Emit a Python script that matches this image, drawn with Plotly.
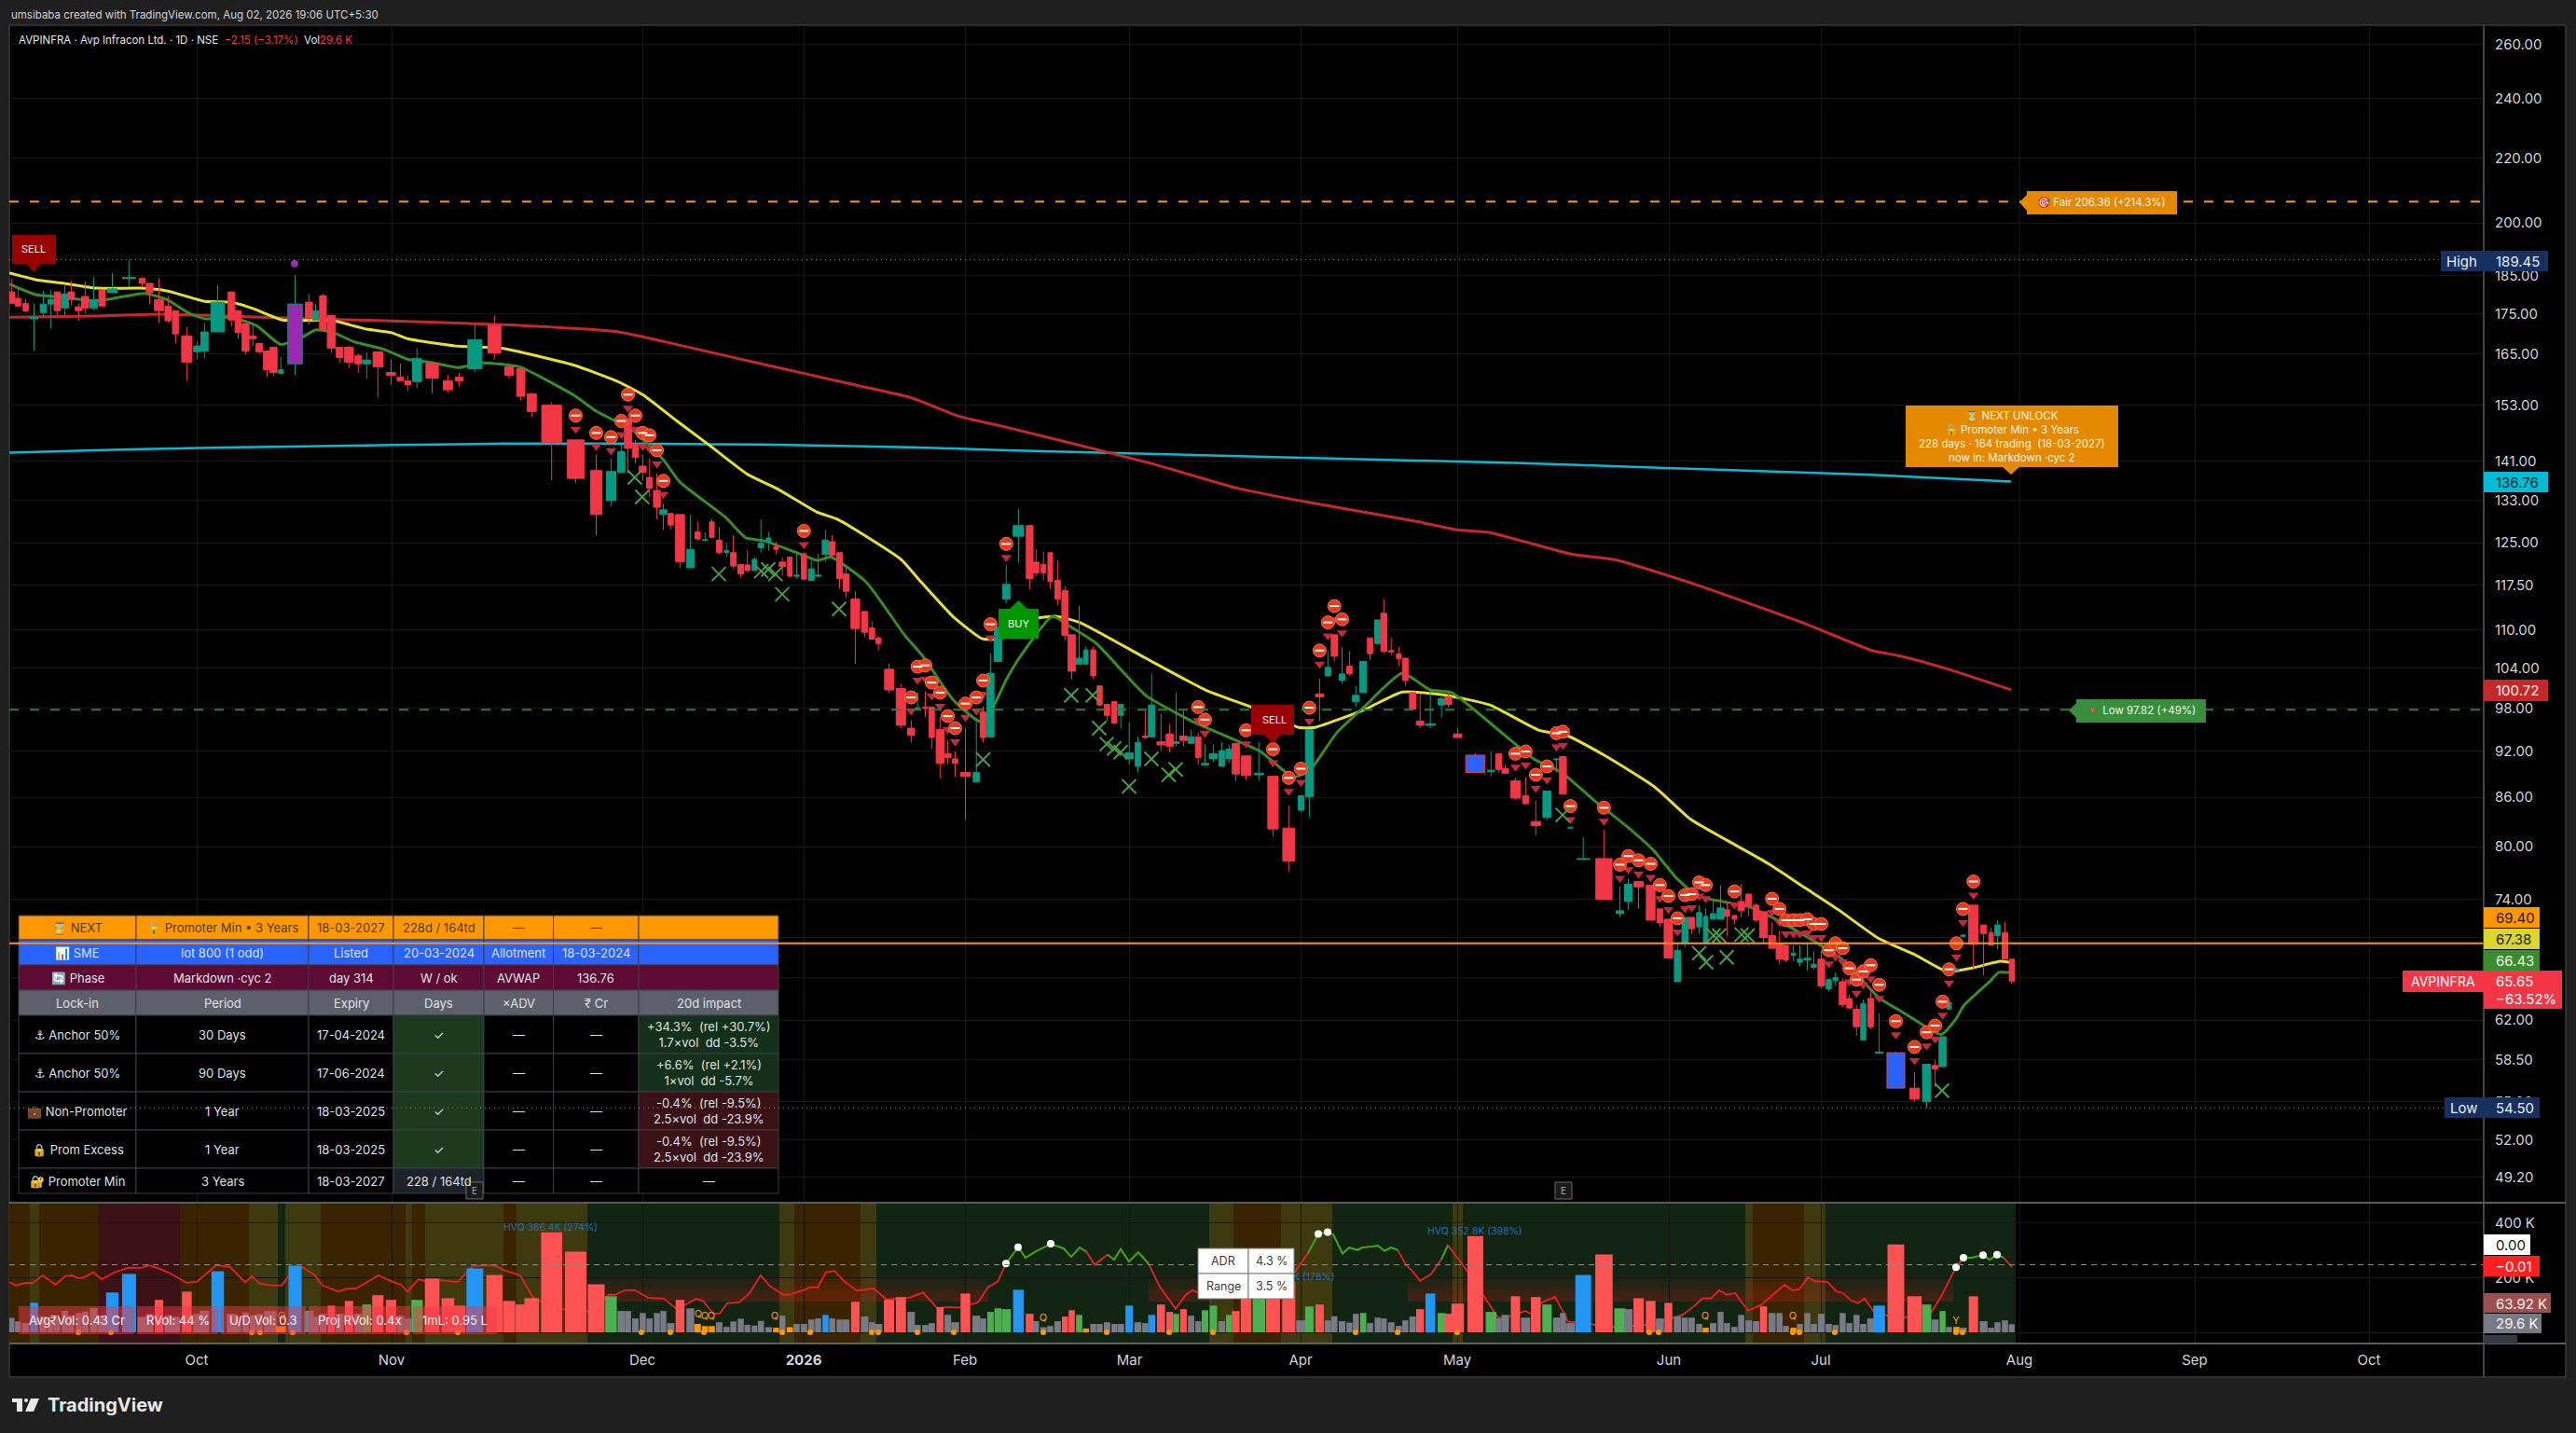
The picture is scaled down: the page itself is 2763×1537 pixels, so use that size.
import numpy as np
import plotly.graph_objects as go

W, H = 2763, 1537
FONT = "Inter, DejaVu Sans, Noto Sans, sans-serif"

# ---- candles, x is the position on the time axis (volume candles are not evenly spaced)
bar_pos = [
    12.7, 19.3, 27.5, 36.5, 46.5, 54.4, 61.3, 69.6, 76.4, 84.4,
    91.3, 100.5, 109.5, 120.5, 138.4, 152.5, 160.5, 170.5, 180.4, 188.4,
    200.4, 211.4, 219.4, 233.5, 248.3, 255.5, 263.4, 271.3, 278.2, 286.5,
    293.4, 301.3, 316.5, 331.3, 338.5, 346.4, 355.4, 364.3, 374.3, 384.3,
    393.3, 405.3, 419.4, 429.4, 437.3, 447.3, 463.5, 480.4, 492.5, 509.3,
    530.3, 546, 558.6, 570.3, 591.7, 617.5, 639.5, 655.4, 666.4, 673.6,
    681.5, 689.4, 696.7, 704.6, 711.5, 719.4, 729.4, 740.4, 748.3, 756.3,
    763.5, 771.4, 779.3, 786.6, 794.5, 801.7, 809.3, 816.2, 824.4, 832.4,
    839.2, 847.2, 854.4, 862.3, 870.2, 877.5, 885.4, 892.6, 900.5, 907.4,
    917.4, 927.4, 935.3, 942.2, 953.6, 966.3, 977.3, 984.2, 992.5, 999.4,
    1008.3, 1016.6, 1024.5, 1035.5, 1047.2, 1054.5, 1062.4, 1070.3, 1079.3, 1092.4,
    1104.4, 1111.3, 1119.2, 1126.5, 1134.4, 1142.3, 1149.5, 1157.5, 1164.7, 1172.6,
    1179.5, 1187.4, 1195.3, 1202.2, 1211.2, 1220.5, 1228.4, 1235.3, 1245.3, 1254.6,
    1261.5, 1269.4, 1277.6, 1285.2, 1292.5, 1301.4, 1310.4, 1318.3, 1325.5, 1336.5,
    1350.3, 1365.4, 1382.3, 1395.4, 1404.4, 1415.4, 1424.3, 1431.2, 1439.5, 1447.4,
    1454.3, 1462.2, 1469.5, 1477.7, 1484.3, 1492.2, 1500.4, 1507.3, 1515.2, 1523.2,
    1534.2, 1546.2, 1553.5, 1563.5, 1582.4, 1599.3, 1607.4, 1614.5, 1625.5, 1636.4,
    1647.3, 1659.3, 1669.5, 1676.4, 1684.4, 1698.2, 1720.4, 1737.5, 1746.5, 1757.5,
    1770.5, 1780.4, 1789.5, 1799.3, 1807.3, 1814.5, 1822.5, 1829.5, 1837.5, 1845.5,
    1852.4, 1860.4, 1867.6, 1875.6, 1883.6, 1891.6, 1900.7, 1908.7, 1915.6, 1923.6,
    1930.5, 1938.5, 1945.5, 1953.5, 1961.5, 1968.7, 1976.4, 1983.6, 1991.3, 1998.5,
    2006.5, 2015.6, 2033.5, 2053.5, 2066.5, 2075.6, 2083.6, 2090.5, 2098.5, 2105.5,
    2116.7, 2127.6, 2135.6, 2142.5, 2150.5, 2157.8,
]
bar_open = [
    180.7, 179, 177.7, 173.7, 175.3, 177.5, 180.7, 176.5, 180.7, 176.8,
    179.5, 176.5, 181.2, 180.5, 184.3, 184.3, 183, 178.7, 177, 175.8,
    169.4, 165.5, 165.7, 170.4, 180.7, 175.8, 172.5, 169.4, 167.5, 165.7,
    166.6, 160.3, 162.6, 178, 173.4, 179.7, 174.6, 166.6, 166.6, 164.6,
    162.6, 165.5, 160.5, 159.4, 158.6, 158.4, 162.8, 158.6, 159.4, 161.4,
    172, 161.9, 161.4, 155.6, 153, 145.4, 139, 133, 138.6, 149.9,
    144.6, 139.9, 137.6, 135, 130.3, 130.5, 130.3, 120.5, 127, 125.4,
    128.9, 125.5, 123.2, 123.2, 121.1, 121, 120, 124.1, 125.2, 124.3,
    121.5, 122.4, 119, 123, 118.3, 119, 122.9, 125.2, 123.2, 119.4,
    115.1, 113, 110.3, 108.7, 103.8, 100.9, 95.2, 97.9, 98.2, 98.2,
    95, 91.7, 91, 89.2, 88, 97.5, 94, 105, 115.1, 126.2,
    128.2, 121.5, 121.1, 123.2, 118.3, 116.5, 109.2, 104.6, 104.6, 106.8,
    101.3, 98.6, 99, 97, 91, 90, 94.1, 94, 93.3, 94.4,
    93.1, 94.1, 93.1, 94, 90.2, 91, 90, 91, 93.1, 91.4,
    88.9, 88.7, 82.2, 84.4, 86.1, 100.1, 102.8, 109.2, 102.1, 104.3,
    99, 100.3, 108.7, 107.8, 112.7, 106.7, 106.2, 105.5, 100.3, 96.2,
    95.6, 98.5, 99.7, 94.4, 91.5, 89.3, 91.7, 89.7, 88.1, 86.2,
    83, 83.5, 90.9, 91.3, 82.2, 78.5, 78.6, 72.5, 73.8, 76,
    75.6, 73, 71.9, 65.6, 69.4, 72.1, 71.1, 69.4, 71.9, 71.9,
    72.9, 72.3, 73.8, 74.6, 73.4, 72.7, 70.2, 69.4, 69.2, 68.2,
    67.5, 67.7, 67, 67.8, 64.9, 65.7, 65.6, 64, 63, 60.2,
    64, 59.05, 59.1, 56.1, 55, 58, 57.9, 63, 66.7, 70.1,
    73.4, 71.3, 70.5, 70.2, 70.5, 67.8,
]
bar_high = [
    184.3, 181.7, 178.9, 177.7, 181, 181.2, 180.7, 182.7, 183.7, 177.7,
    183.5, 184.7, 181.2, 185.8, 189.45, 184.7, 183, 184.3, 179.7, 175.8,
    171.6, 168, 172.7, 182.5, 180.7, 175.8, 172.5, 172.5, 167.8, 165.7,
    166.6, 164.3, 185.2, 180.2, 177.5, 180.2, 174.6, 166.6, 167, 165.1,
    165.5, 165.5, 163.7, 162.6, 159.9, 166.4, 163.2, 160, 160.5, 172.5,
    174.6, 162.6, 161.4, 155.8, 153.7, 145.4, 142.3, 141.5, 144.4, 149.9,
    145.4, 142.3, 141.5, 138.4, 132.4, 130.5, 130.3, 130.3, 129, 126.9,
    129.4, 128, 124.9, 126.4, 121.1, 123.6, 122.4, 129.4, 127, 125.2,
    122.4, 122.4, 123.2, 123.2, 121.8, 123, 127.4, 126.4, 123.2, 120.8,
    116.4, 113, 111.4, 109, 104.7, 101.6, 96.3, 100.4, 100.5, 98.2,
    96.8, 93.5, 92, 95.2, 96.3, 98.3, 106.3, 110.4, 121, 131.4,
    128.2, 123.8, 123.4, 123.2, 121.8, 117.3, 109.2, 114, 107.3, 107.3,
    101.3, 98.6, 99, 98.6, 96, 94, 97.8, 103.1, 97.2, 95.8,
    100.3, 97.8, 95, 94.6, 93, 92.9, 93.3, 92.9, 93.1, 91.4,
    93.3, 88.7, 85, 86.2, 95, 102.4, 106.7, 109.2, 107.3, 106.6,
    101.3, 105, 108.7, 111.6, 115.1, 108.7, 107.3, 105.5, 100.4, 100.1,
    100.7, 99.9, 100.6, 95.2, 91.8, 92, 91.7, 90.2, 88.5, 88.6,
    85.6, 86.8, 91.1, 91.3, 82.4, 81.1, 82, 75.4, 76.3, 76,
    75.6, 73, 71.9, 69.5, 72.1, 72.1, 73.4, 73, 74, 75.6,
    73.8, 72.3, 75.7, 74.7, 73.6, 72.7, 71.6, 70.7, 69.2, 69.2,
    69.2, 69.4, 68.6, 68.6, 65.9, 66.5, 65.9, 64.4, 63.4, 63.9,
    65, 62.6, 59.2, 57.4, 58.1, 58.5, 60.5, 63.6, 66.9, 70.3,
    73.4, 71.3, 71, 71.8, 71.6, 67.8,
]
bar_low = [
    177.7, 177, 175.4, 165.7, 174.3, 171.2, 174.6, 174.6, 177.3, 173.2,
    175.1, 176, 177, 180.5, 182, 182.2, 177.5, 172.7, 172.7, 167.5,
    158.6, 163.7, 163.9, 170.4, 171.8, 168.7, 164.8, 166.9, 165, 159.6,
    159.6, 160.3, 159.9, 172.2, 173.4, 170.4, 165.2, 162.8, 161.6, 160.5,
    159, 154.7, 157.7, 158.6, 156.2, 156.9, 155.6, 155.8, 157.3, 160.5,
    163.7, 159, 154.1, 150.3, 137, 136.5, 126.4, 131.9, 138.6, 138.4,
    140.5, 137, 133.7, 129.4, 127.4, 127.4, 120.5, 120.5, 125.4, 125.4,
    126, 122.9, 122.4, 120.3, 118.8, 119.6, 120, 123.2, 123.6, 122.9,
    119.1, 118.8, 118.6, 118.3, 118.3, 118.8, 121.6, 122.5, 116.9, 115.3,
    104.6, 108.8, 108.5, 106.7, 100.3, 95.2, 93.2, 97.8, 96.8, 92.3,
    88.4, 90.3, 88.6, 83.2, 88, 93.2, 94, 105, 114.3, 121.5,
    116.7, 119, 118.3, 116.9, 114.1, 108.3, 102.3, 104.5, 104.6, 102.3,
    98.3, 96.2, 95.7, 95.2, 90.2, 89.2, 93.7, 94, 92.1, 91.9,
    92.7, 92.7, 93.1, 90.2, 90.1, 90.6, 90, 90.4, 88.1, 88.2,
    88.1, 81.2, 77.1, 84.1, 83.5, 96.2, 102.8, 105, 101.6, 102.8,
    98.2, 100.3, 105.2, 107.8, 106.2, 106, 104.3, 101.3, 97.9, 95.2,
    95.2, 96.7, 98.2, 93.9, 89.2, 88.7, 89.2, 89.1, 85.7, 85.1,
    81.3, 83.2, 89.2, 86.4, 82.1, 78.4, 74, 72.1, 72.9, 73,
    71.8, 71.1, 67.9, 65.6, 69, 70.4, 70.4, 69.4, 71.9, 71.9,
    70.1, 71.4, 72.1, 72.2, 71.6, 69.3, 68.8, 67.3, 67.5, 67.6,
    67.1, 66.7, 66.8, 65, 64.7, 65.2, 63.2, 63.1, 60.6, 60.2,
    61.2, 59, 56.1, 55, 54.5, 56.2, 57.9, 63, 66.7, 70.1,
    66.8, 66.2, 69.2, 68.8, 67.8, 65.4,
]
bar_close = [
    177.7, 177, 175.7, 174, 177.5, 178.7, 175.8, 180.2, 178.7, 175.8,
    176.5, 178.7, 177, 181.5, 184.6, 183, 180.5, 175.8, 173.2, 169.9,
    163, 166.9, 170.4, 178, 173.4, 170.2, 165.7, 168.7, 165.5, 161.2,
    160.5, 161.2, 177.5, 173.9, 175.8, 171, 166.4, 164.1, 163, 162.6,
    163.5, 161.9, 159.9, 158.6, 157.7, 163.9, 159.2, 156.5, 158.6, 168.4,
    165.2, 159.9, 155, 151.6, 144.8, 137.4, 130.3, 138.8, 142.9, 143.6,
    141.7, 138.6, 135.4, 131.7, 131.2, 128.3, 121.6, 123.8, 125.7, 125.6,
    126, 123.2, 123.6, 120.8, 119.4, 120, 122, 124.9, 125.9, 123.8,
    120.7, 119, 119.2, 118.5, 120.3, 119.2, 125.5, 122.7, 118.6, 116.4,
    110.2, 109.6, 108.5, 107.8, 100.7, 95.6, 94.2, 98.1, 98, 93.9,
    90.4, 91.2, 90.4, 88.7, 89.2, 93.9, 103.2, 110.4, 117.6, 128.2,
    118.6, 119.6, 119.6, 118.1, 115.1, 109.1, 103.5, 105.5, 106.8, 102.8,
    98.5, 97, 95.9, 98.6, 91.8, 93.2, 93.9, 98.5, 92.9, 92.7,
    93.3, 93.5, 94, 91.2, 90.4, 91.7, 92.1, 92.3, 89, 88.8,
    89.1, 82.1, 78.3, 86.2, 95, 99.7, 104.1, 105.8, 103.1, 103.1,
    99.9, 105, 106.2, 111.6, 106.6, 106.5, 105.4, 102.1, 97.9, 95.6,
    95.8, 99.4, 98.6, 93.9, 89.2, 89.5, 89.6, 89.1, 85.9, 85.2,
    82.5, 86.8, 91, 86.4, 82.3, 78.6, 74, 72.8, 75.7, 75.4,
    71.8, 71.5, 67.9, 68.7, 72.1, 70.9, 72.6, 72.2, 72.5, 73.1,
    72.2, 71.9, 72.8, 73.3, 71.8, 70, 68.9, 67.8, 67.7, 68.4,
    67.8, 67.9, 67.3, 65.2, 65.8, 66, 63.4, 63.1, 61.4, 63.5,
    61.4, 59.15, 56.1, 55.2, 58.1, 57.7, 60.5, 63.6, 66.85, 70.25,
    69.3, 70.4, 69.2, 71.3, 67.8, 65.65,
]
# volume in thousands, one per candle
volume_k = [
    53, 40, 34, 108, 59, 45, 51, 79, 62, 71,
    76, 90, 62, 146, 214, 57, 68, 119, 62, 57,
    149, 68, 79, 224, 68, 57, 73, 62, 68, 79,
    77, 23, 244, 79, 57, 68, 98, 68, 115, 68,
    102, 136, 119, 62, 51, 119, 197, 125, 98, 234,
    210, 115, 102, 125, 366.4, 295, 176, 132, 78, 78,
    51, 71, 51, 71, 78, 34, 119, 88, 31, 23,
    23, 37, 20, 40, 50, 28, 25, 42, 19, 17,
    61, 19, 31, 31, 47, 51, 64, 51, 47, 47,
    112, 58, 37, 31, 119, 129, 75, 27, 27, 34,
    92, 64, 37, 142, 61, 51, 75, 88, 85, 156,
    68, 41, 19, 23, 41, 58, 81, 64, 14, 31,
    31, 37, 31, 31, 98, 37, 34, 64, 102, 75,
    68, 85, 61, 41, 81, 98, 41, 64, 78, 141,
    130, 152, 186, 44, 95, 102, 44, 59, 41, 36,
    68, 71, 34, 54, 51, 37, 24, 44, 58, 85,
    142, 71, 68, 105, 352.8, 75, 51, 64, 132, 54,
    129, 102, 54, 71, 34, 210, 285, 88, 85, 125,
    115, 51, 108, 58, 54, 54, 31, 17, 34, 75,
    34, 20, 64, 44, 41, 95, 71, 71, 24, 17,
    31, 71, 31, 68, 31, 27, 71, 34, 64, 31,
    51, 98, 322, 132, 102, 47, 78, 20, 20, 17,
    132, 41, 17, 37, 44, 29.6,
]
# g gray, r red, G green, b blue, o orange
volume_kind = (
    "gggbgggggg" "gggbbggrgg" "rggbgggggg" "gobgggrgrg" "GrrggGrrrb"
    "rrrrrrrGgg" "ggggggrgoo" "oggggggggo" "goggggbggg" "rgggrrgggg"
    "rggrggGGGb" "rggggrrGog" "ggggbggbrr" "GrggGGgGrr" "GrrgGrgggg"
    "gGgggggggr" "bGrrrGggrg" "rGgggbrGgr" "rgrggggogg" "gggggrgggo"
    "gggggggggg" "gbrrGgGgog" "rggggg"
)
purple_bars = [32]
blue_bars = [164, 212]

# ---- moving averages
yellow_x = [10, 38, 69, 103, 151, 179, 220, 248, 272, 303, 344, 358, 393, 420, 437, 489, 537, 615, 663, 690,
            726, 760, 802, 833, 876, 898, 927, 967, 988, 1022, 1053, 1067, 1100, 1132, 1158, 1229, 1293, 1346,
            1393, 1410, 1463, 1504, 1551, 1598, 1651, 1680, 1722, 1774, 1813, 1853, 1897, 1936, 1972, 2015,
            2055, 2088, 2114, 2146, 2160]
yellow_ma = [185.8, 184, 183, 181.7, 181.7, 181, 178.2, 178, 176.3, 173.4, 173.4, 173.2, 171.1, 170.2, 168.7,
             166.9, 166.4, 162.3, 158.4, 155.3, 149.5, 144.4, 138.2, 135.4, 130.8, 129.4, 126.4, 121.9, 118,
             112.2, 108.6, 108.5, 111.5, 112.2, 111.2, 105.5, 100.7, 98, 95.3, 95.3, 97.8, 100.4, 99.9, 98.5,
             94.9, 94.2, 91.4, 87.4, 83.3, 80.7, 78, 75.3, 72.9, 69.9, 68.2, 66.6, 66.9, 67.6, 67.38]
green_x = [10, 38, 69, 103, 155, 179, 203, 220, 248, 275, 301, 325, 339, 358, 379, 413, 437, 461, 492, 517, 557,
           616, 640, 678, 712, 729, 778, 800, 819, 853, 877, 891, 929, 970, 991, 1022, 1050, 1060, 1080, 1094,
           1129, 1146, 1176, 1229, 1281, 1317, 1352, 1387, 1405, 1434, 1463, 1504, 1534, 1557, 1604, 1645, 1675,
           1710, 1745, 1774, 1798, 1821, 1877, 1916, 1976, 2015, 2047, 2082, 2098, 2106, 2134, 2144, 2160]
green_ma = [182.8, 180, 179.3, 178.3, 180.3, 178.7, 175.1, 173.7, 174.1, 172, 167.3, 169.2, 170.9, 170.2, 168,
            166, 163.7, 163, 161.7, 162.8, 161.9, 155.2, 151.6, 147.5, 141.1, 136.7, 129.8, 125.9, 125.4, 123.3,
            121.8, 122.4, 118, 109.2, 105.6, 99.3, 96.2, 96.9, 102.4, 105.7, 112.2, 110.7, 107.8, 99.9, 96, 94,
            92, 88.6, 89.5, 94.6, 98.2, 103.2, 100.7, 100.3, 95.3, 91, 89.2, 85.6, 82.4, 79.5, 76.4, 74.4, 73.2,
            71.3, 67.8, 64.1, 62.4, 60.7, 62.1, 63.3, 65.6, 66.5, 66.43]
red_x = [10, 103, 172, 296, 413, 540, 663, 733, 822, 920, 977, 1029, 1080, 1234, 1328, 1405, 1522, 1563, 1598,
         1686, 1733, 1820, 1938, 2008, 2040, 2090, 2157]
red_ma = [174.1, 174.4, 174.9, 174, 173.2, 172.2, 170.4, 166.9, 162.3, 157.5, 154.7, 150.5, 148.1, 140.5, 135.4,
          132.6, 128.9, 127.4, 126.9, 122.9, 121.9, 117.5, 110.9, 106.7, 105.8, 103.8, 100.72]
cyan_x = [10, 138, 310, 540, 675, 815, 988, 1080, 1633, 1820, 2000, 2157]
cyan_ma = [142.7, 143.4, 144, 144.6, 144.6, 144.4, 143.8, 143.2, 140.5, 139.3, 138.2, 136.76]

# ---- markers on the candles
stop_x = [617.5, 639.5, 655.4, 666.4, 673.6, 681.5, 689.4, 696.7, 704.6, 711.5, 862.3, 977.3, 984.2, 992.5, 999.4,
          1008.3, 1016.6, 1024.5, 1035.5, 1047.2, 1054.5, 1062.4, 1079.3, 1285.2, 1292.5, 1336.5, 1350.3, 1365.4,
          1382.3, 1395.4, 1404.4, 1415.4, 1424.3, 1431.2, 1439.5, 1625.5, 1636.4, 1647.3, 1659.3, 1669.5, 1676.4,
          1684.4, 1720.4, 1737.5, 1746.5, 1757.5, 1770.5, 1780.4, 1789.5, 1799.3, 1807.3, 1814.5, 1822.5, 1829.5,
          1860.4, 1900.7, 1908.7, 1915.6, 1923.6, 1930.5, 1938.5, 1945.5, 1953.5, 1961.5, 1968.7, 1976.4, 1983.6,
          1991.3, 1998.5, 2006.5, 2015.6, 2033.5, 2053.5, 2066.5, 2075.6, 2083.6, 2090.5, 2098.5, 2105.5, 2116.7]
stop_price = [150.7, 146.9, 146, 149.5, 155.4, 150.7, 146.9, 146.4, 143.2, 136.9, 127.2, 99.6, 104.2, 104.4, 101.8,
              100.3, 96.9, 95.2, 98.7, 99.6, 102.1, 110.9, 124.8, 98.2, 96.4, 94.9, 96.7, 92.3, 88.5, 89.7, 98.1,
              106.7, 111.2, 113.9, 111.7, 91.7, 92, 88.9, 90, 94.5, 94.7, 84.9, 84.7, 77.9, 78.9, 78.4, 78, 75.6,
              74.4, 72, 74.5, 74.6, 75.9, 75.6, 74.9, 74.1, 73, 71.8, 71.8, 71.8, 71.9, 71.4, 71.4, 68.7, 69.4,
              68.9, 66.9, 65.8, 66.6, 67.2, 65.3, 61.9, 59.6, 60.9, 61.5, 63.7, 66.8, 69.4, 73, 76]
cross_x = [680.8, 688.8, 771, 816.5, 824, 831.7, 839, 900, 1054.5, 1149, 1172, 1179, 1187, 1195, 1202, 1211, 1235,
           1253.5, 1261, 1676, 1822.5, 1830, 1838, 1844, 1852, 1868, 1874.5, 2083]
cross_price = [137.6, 133.7, 119.4, 119.9, 120.2, 119.4, 115.9, 113.4, 90.9, 99.9, 99.9, 95.2, 93, 92.4, 91.9, 87.4,
               91, 88.9, 89.6, 83.8, 68.4, 67.5, 70.2, 70.2, 68, 70.3, 70.2, 55.9]
purple_dot_x = [316]
purple_dot_price = [188.4]

# ---- indicator line in the lower pane
rs_x = [10.5, 17.5, 26.7, 35, 45.6, 59.6, 70, 77, 84, 91, 100, 109, 123, 137, 151, 160, 172, 184, 200, 211, 232, 247,
        263, 270, 279, 288, 302, 312, 324, 337, 346, 363, 372, 382, 406, 421, 430, 437, 449, 456, 472, 491, 507, 530,
        540, 558, 572, 597, 632, 653, 660, 670, 681, 695, 712, 726, 747, 754, 765, 772, 780, 793, 804, 816, 825, 840,
        846, 860, 870, 877, 886, 895, 905, 919, 937, 951, 961, 975, 990, 1005, 1018, 1028, 1049, 1060, 1070, 1079,
        1092, 1100, 1111, 1127, 1141, 1149, 1158, 1165, 1174, 1188, 1195, 1202, 1211, 1221, 1232, 1244, 1261, 1272,
        1279, 1293, 1311, 1339, 1374, 1388, 1403, 1414, 1424, 1430, 1440, 1447, 1456, 1461, 1478, 1485, 1492, 1499,
        1508, 1514, 1523, 1535, 1546, 1553, 1569, 1591, 1607, 1619, 1636, 1644, 1654, 1668, 1682, 1693, 1732, 1774,
        1805, 1816, 1826, 1835, 1844, 1852, 1861, 1875, 1889, 1914, 1922, 1930, 1939, 1947, 1960, 1970, 1977, 1986,
        1993, 2000, 2011, 2040, 2072, 2083, 2098, 2106, 2114, 2127, 2134, 2142, 2149, 2158]
rs_val = [-0.095, -0.112, -0.098, -0.1, -0.058, -0.107, -0.062, -0.057, -0.073, -0.067, -0.04, -0.078, -0.04, -0.017,
          -0.017, -0.003, -0.023, -0.05, -0.097, -0.092, -0.002, -0.013, -0.095, -0.062, -0.102, -0.11, -0.112, -0.045,
          -0.012, -0.053, -0.112, -0.145, -0.13, -0.128, -0.057, -0.092, -0.107, -0.145, -0.078, -0.09, -0.083, -0.093,
          -0.007, -0.003, -0.028, -0.057, -0.178, -0.237, -0.253, -0.162, -0.162, -0.137, -0.137, -0.178, -0.183, -0.24,
          -0.183, -0.195, -0.263, -0.263, -0.208, -0.203, -0.153, -0.057, -0.112, -0.162, -0.162, -0.14, -0.12, -0.123,
          -0.04, -0.033, -0.087, -0.14, -0.128, -0.187, -0.183, -0.178, -0.15, -0.233, -0.228, -0.232, -0.203, -0.12,
          -0.092, 0.007, 0.095, 0.038, 0.072, 0.113, 0.088, 0.043, 0.093, 0.072, 0.0, 0.055, 0.027, 0.085, 0.017, 0.068,
          0.005, -0.12, -0.237, -0.162, -0.137, -0.17, -0.162, -0.12, -0.095, -0.045, 0.063, 0.167, 0.177, 0.163, 0.06,
          0.093, 0.08, 0.093, 0.103, 0.075, 0.093, 0.08, 0.0, -0.028, -0.087, -0.05, 0.03, 0.105, 0.0, -0.17, -0.287,
          -0.278, -0.25, -0.27, -0.203, -0.173, -0.307, -0.312, -0.337, -0.32, -0.27, -0.228, -0.182, -0.182, -0.137,
          -0.162, -0.153, -0.248, -0.217, -0.108, -0.137, -0.133, -0.067, -0.09, -0.092, -0.145, -0.153, -0.195, -0.207,
          -0.182, -0.262, -0.287, -0.253, -0.162, -0.013, 0.038, 0.038, 0.052, 0.027, 0.055, 0.038, -0.012]
rs_dot_x = [1079, 1092, 1127, 1414, 1424, 2098, 2106, 2127, 2142]
rs_dot_val = [0.007, 0.095, 0.113, 0.167, 0.177, -0.013, 0.038, 0.052, 0.055]
pivot_x = [84, 119, 270, 279, 314, 436, 491, 688, 719, 755, 839, 869, 935, 942, 984, 1023, 1119, 1187, 1254, 1301, 1454,
           1499, 1563, 1769, 1779, 1923, 1930, 1968, 2098, 2105]
q_x = [302, 749, 756, 763, 831, 1119, 1829, 1923]
q_label = ["Q", "Q", "Q", "Q", "Q", "Q", "Q", "Q"]
q_k = [40, 45, 38, 38, 40, 33, 40, 40]
y_x = [2098]

# regime colours behind the lower pane
regime_edges = [10, 32, 42, 105, 193, 212, 267, 298, 306, 344, 435, 442, 456, 540, 554, 630, 836, 852, 923, 940,
                1297, 1323, 1374, 1429, 1558, 1569, 1872, 1880, 1935, 1958, 2162]
regime_kind = ["b", "o", "b", "m", "b", "b", "o", "G", "o", "b", "o", "b", "o", "b", "o", "G", "o", "b", "o", "G",
               "o", "b", "o", "G", "o", "G", "o", "b", "o", "G"]
glow_spans = [(630, 1060), (1232, 1300), (1510, 2095)]

# ---- axes
price_ticks = [260, 240, 220, 200, 185, 175, 165, 153, 141, 133, 125, 117.5, 110, 104, 98, 92, 86, 80, 74, 70, 66, 62,
               58.5, 55, 52, 49.2]
month_pos = [211, 420, 689, 862, 1035, 1211.6, 1395, 1563, 1790, 1953, 2166, 2354, 2541]
month_text = ["Oct", "Nov", "Dec", "<b>2026</b>", "Feb", "Mar", "Apr", "May", "Jun", "Jul", "Aug", "Sep", "Oct"]
vol_ticks = [0, 200, 400]
vol_text = ["", "200 K", "400 K"]

fair_price = 206.36
next_low_price = 97.82
last_ref_price = 69.40
high_price = 189.45
low_price = 54.50

# ---- table
col_edges = [20, 146, 331, 422, 519, 593.5, 685, 835]
row_edges = [982, 1008, 1035, 1062, 1089, 1130, 1171, 1212, 1253, 1280]
table_rows = [
    ["⌛ NEXT", "🔓 Promoter Min • 3 Years", "18-03-2027", "228d / 164td", "—", "—", ""],
    ["📊 SME", "lot 800 (1 odd)", "Listed", "20-03-2024", "Allotment", "18-03-2024", ""],
    ["🔄 Phase", "Markdown ·cyc 2", "day 314", "W / ok", "AVWAP", "136.76", ""],
    ["Lock-in", "Period", "Expiry", "Days", "×ADV", "₹ Cr", "20d impact"],
    ["⚓ Anchor 50%", "30 Days", "17-04-2024", "✓", "—", "—", "+34.3%  (rel +30.7%)<br>1.7×vol  dd -3.5%"],
    ["⚓ Anchor 50%", "90 Days", "17-06-2024", "✓", "—", "—", "+6.6%  (rel +2.1%)<br>1×vol  dd -5.7%"],
    ["💼 Non-Promoter", "1 Year", "18-03-2025", "✓", "—", "—", "-0.4%  (rel -9.5%)<br>2.5×vol  dd -23.9%"],
    ["🔒 Prom Excess", "1 Year", "18-03-2025", "✓", "—", "—", "-0.4%  (rel -9.5%)<br>2.5×vol  dd -23.9%"],
    ["🔐 Promoter Min", "3 Years", "18-03-2027", "228 / 164td", "—", "—", "—"],
]
row_fill = ["#ff9800", "#2962ff", "#5e0b33", "#5d606b", "#000000", "#000000", "#000000", "#000000", "#000000"]
days_fill = [None, None, None, None, "#1b3a1e", "#1b3a1e", "#1b3a1e", "#1b3a1e", "#1e222a"]
impact_fill = [None, None, None, None, "#12301a", "#12301a", "#3a1216", "#3a1216", None]

# ---- stat boxes in the lower pane
stat_text = ["Avg₹Vol: 0.43 Cr", "RVol: 44 %", "U/D Vol: 0.3", "Proj RVol: 0.4x", "1mL: 0.95 L"]
stat_edges = [(20, 144), (147, 234), (237, 328), (331, 440), (443, 533)]


def fx(x):
    return x / W


def fy(y):
    return 1 - y / H


shapes = []
annotations = []


def box(x0, y0, x1, y1, fill, line=None, width=0):
    shapes.append(dict(type="rect", xref="paper", yref="paper", x0=fx(x0), x1=fx(x1), y0=fy(y0), y1=fy(y1),
                       fillcolor=fill, line=dict(color=line or fill, width=width), layer="above"))


def poly(points, fill):
    path = "M " + " L ".join(f"{fx(a):.5f},{fy(b):.5f}" for a, b in points) + " Z"
    shapes.append(dict(type="path", xref="paper", yref="paper", path=path, fillcolor=fill, line=dict(width=0),
                       layer="above"))


def label(x, y, text, color="#d1d4dc", size=13, anchor="center", **kw):
    annotations.append(dict(xref="paper", yref="paper", x=fx(x), y=fy(y), text=text, showarrow=False, xanchor=anchor,
                            yanchor="middle", font=dict(family=FONT, size=size, color=color), **kw))


def main_y(p):
    return float(np.log10(p))


# ---- candle geometry from the values above
vol = np.array(volume_k, dtype=float)
pos = np.array(bar_pos, dtype=float)
body_lo = np.log10(np.minimum(bar_open, bar_close))
body_hi = np.log10(np.maximum(bar_open, bar_close))
is_up = np.array(bar_close) >= np.array(bar_open)
body_color = ["#089981" if u else "#f23645" for u in is_up]
edge_color = list(body_color)
for i in purple_bars:
    body_color[i] = "#9c27b0"
    edge_color[i] = "#089981"
for i in blue_bars:
    body_color[i] = "#2962ff"
    edge_color[i] = "#f23645"
body_width = 4 + vol * 0.047

wick_x = {True: [], False: []}
wick_y = {True: [], False: []}
for i in range(len(pos)):
    u = bool(is_up[i])
    wick_x[u] += [pos[i], pos[i], None, pos[i], pos[i], None]
    wick_y[u] += [main_y(bar_high[i]), body_hi[i], None, body_lo[i], main_y(bar_low[i]), None]

kind_color = {"g": "#787b86", "r": "#ff5252", "G": "#4caf50", "b": "#2196f3", "o": "#ff9800"}
vol_color = [kind_color[k] for k in volume_kind]
gaps = np.diff(pos)
left = np.r_[gaps[0], gaps]
right = np.r_[gaps, gaps[-1]]
vol_width = (left + right) / 2 - 1

fig = go.Figure()


def add_ma(x, v, color, width):
    fig.add_trace(go.Scatter(x=x, y=np.log10(v), mode="lines", line=dict(color=color, width=width, shape="spline",
                                                                         smoothing=0.5),
                             xaxis="x", yaxis="y", hoverinfo="skip", showlegend=False))


add_ma(cyan_x, cyan_ma, "#00bcd4", 2.5)
add_ma(red_x, red_ma, "#c62828", 3)
add_ma(yellow_x, yellow_ma, "#e6e02e", 3)
add_ma(green_x, green_ma, "#388e1f", 3)

# candles on an overlay axis so they paint over the averages
fig.add_trace(go.Bar(x=pos, y=body_hi - body_lo, base=body_lo, width=body_width,
                     marker=dict(color=body_color, line=dict(color=edge_color, width=1)),
                     xaxis="x", yaxis="y4", hoverinfo="skip", showlegend=False))
for up, col in [(True, "#089981"), (False, "#f23645")]:
    fig.add_trace(go.Scatter(x=wick_x[up], y=wick_y[up], mode="lines", line=dict(color=col, width=1),
                             xaxis="x", yaxis="y4", hoverinfo="skip", showlegend=False, connectgaps=False))

stop_y = np.log10(stop_price)
fig.add_trace(go.Scatter(x=stop_x, y=stop_y - 14.5 / 730 / np.log(10), mode="markers",
                         marker=dict(symbol="triangle-down", size=10, color="#c4283c"),
                         xaxis="x", yaxis="y4", hoverinfo="skip", showlegend=False))
fig.add_trace(go.Scatter(x=stop_x, y=stop_y, mode="markers",
                         marker=dict(symbol="circle", size=14, color="#e8381e", line=dict(color="#ff7043", width=1)),
                         xaxis="x", yaxis="y4", hoverinfo="skip", showlegend=False))
fig.add_trace(go.Scatter(x=stop_x, y=stop_y, mode="markers",
                         marker=dict(symbol="line-ew", size=7, line=dict(color="#ffffff", width=2)),
                         xaxis="x", yaxis="y4", hoverinfo="skip", showlegend=False))
fig.add_trace(go.Scatter(x=cross_x, y=np.log10(cross_price), mode="markers",
                         marker=dict(symbol="x-thin", size=15, line=dict(color="#43a047", width=2)),
                         xaxis="x", yaxis="y4", hoverinfo="skip", showlegend=False))
fig.add_trace(go.Scatter(x=purple_dot_x, y=np.log10(purple_dot_price), mode="markers",
                         marker=dict(symbol="circle", size=8, color="#9c27b0"),
                         xaxis="x", yaxis="y4", hoverinfo="skip", showlegend=False))

# ---- lower pane: indicator below, volume on top
rs = np.array(rs_val)
fig.add_trace(go.Scatter(x=rs_x, y=rs, mode="lines", line=dict(color="#f01e1e", width=1.8),
                         xaxis="x2", yaxis="y2", hoverinfo="skip", showlegend=False))
fig.add_trace(go.Scatter(x=rs_x, y=[v if v > 0 else None for v in rs], mode="lines",
                         line=dict(color="#22b80c", width=1.8),
                         xaxis="x2", yaxis="y2", hoverinfo="skip", showlegend=False))
fig.add_trace(go.Scatter(x=rs_dot_x, y=rs_dot_val, mode="markers",
                         marker=dict(symbol="circle", size=8, color="#ffffff"),
                         xaxis="x2", yaxis="y2", hoverinfo="skip", showlegend=False))
fig.add_trace(go.Bar(x=pos, y=vol, width=vol_width, marker=dict(color=vol_color, line=dict(width=0)),
                     xaxis="x2", yaxis="y3", hoverinfo="skip", showlegend=False))
fig.add_trace(go.Scatter(x=pivot_x, y=[0] * len(pivot_x), mode="markers",
                         marker=dict(symbol="circle", size=6, color="#ff9800"),
                         xaxis="x2", yaxis="y3", hoverinfo="skip", showlegend=False))
fig.add_trace(go.Scatter(x=q_x, y=q_k, mode="text", text=q_label,
                         textfont=dict(family=FONT, size=11, color="#ff9800"), textposition="top center",
                         xaxis="x2", yaxis="y3", hoverinfo="skip", showlegend=False))
fig.add_trace(go.Scatter(x=y_x, y=[20], mode="text", text=["Y"],
                         textfont=dict(family=FONT, size=11, color="#ff9800"), textposition="top center",
                         xaxis="x2", yaxis="y3", hoverinfo="skip", showlegend=False))

# ---- frame and panes (below the traces)
shapes.append(dict(type="rect", xref="paper", yref="paper", x0=fx(10), x1=fx(2752), y0=fy(27), y1=fy(1477),
                   fillcolor="#000000", line=dict(color="#2e2e2e", width=2), layer="below"))
regime_color = {"b": "#3a2400", "o": "#3d3a10", "m": "#3b1116", "G": "#122412"}
for i, k in enumerate(regime_kind):
    shapes.append(dict(type="rect", xref="x2", yref="paper", x0=regime_edges[i], x1=regime_edges[i + 1],
                       y0=fy(1441), y1=fy(1291), fillcolor=regime_color[k], line=dict(width=0), layer="below"))
for a, b in glow_spans:
    for j in range(7):
        shapes.append(dict(type="rect", xref="x2", yref="paper", x0=a, x1=b, y0=fy(1368 + 4 * j + 4),
                           y1=fy(1368 + 4 * j), fillcolor=f"rgba(230,30,30,{0.02 + 0.036 * j:.3f})",
                           line=dict(width=0), layer="below"))

# ---- table (shapes), the price lines pass over it
for r, row in enumerate(table_rows):
    y0, y1 = row_edges[r], row_edges[r + 1]
    for c, txt in enumerate(row):
        x0, x1 = col_edges[c], col_edges[c + 1]
        fill = row_fill[r]
        if c == 3 and days_fill[r]:
            fill = days_fill[r]
        if c == 6 and impact_fill[r]:
            fill = impact_fill[r]
        box(x0, y0, x1, y1, fill, "#3c3f47", 1)
        col = "#4a3d14" if r == 0 else "#dfe1e6"
        label((x0 + x1) / 2, (y0 + y1) / 2, txt, col, 13)


# ---- horizontal price lines
def hline(price, color, dash, width, x1=2664):
    shapes.append(dict(type="line", xref="x", yref="y", x0=10, x1=x1, y0=main_y(price), y1=main_y(price),
                       line=dict(color=color, dash=dash, width=width), layer="above"))


hline(fair_price, "#ff9800", "10px,12px", 2)
hline(next_low_price, "#2e7d32", "10px,12px", 2)
hline(last_ref_price, "#ff9800", "solid", 2)
hline(high_price, "#8a8a8a", "1px,4px", 1, 2618)
hline(low_price, "#8a8a8a", "1px,4px", 1, 2622)
shapes.append(dict(type="line", xref="x2", yref="y2", x0=10, x1=2664, y0=0, y1=0,
                   line=dict(color="#8a8a8a", dash="6px,5px", width=1), layer="above"))

# pane separators
for y in (1290, 1441):
    shapes.append(dict(type="line", xref="paper", yref="paper", x0=fx(10), x1=fx(2752), y0=fy(y), y1=fy(y),
                       line=dict(color="#7a7a7a", width=1.5), layer="above"))
shapes.append(dict(type="line", xref="paper", yref="paper", x0=fx(2664), x1=fx(2664), y0=fy(27), y1=fy(1477),
                   line=dict(color="#5a5a5a", width=1.5), layer="above"))

# ---- header and footer
label(10, 16, "umsibaba created with TradingView.com, Aug 02, 2026 19:06 UTC+5:30", "#d1d4dc", 11.5, "left")
label(18, 43, 'AVPINFRA · Avp Infracon Ltd. · 1D · NSE  <span style="color:#f23645">−2.15 (−3.17%)</span>  '
              'Vol<span style="color:#f23645">29.6 K</span>', "#e6e6e6", 11.5, "left")
label(49, 1507, "<b>TradingView</b>", "#e8e8e8", 20, "left")
box(13, 1500, 24, 1504, "#e8e8e8")
box(18, 1500, 24, 1514, "#e8e8e8")
shapes.append(dict(type="circle", xref="paper", yref="paper", x0=fx(26), x1=fx(30), y0=fy(1500), y1=fy(1504),
                   fillcolor="#e8e8e8", line=dict(width=0), layer="above"))
poly([(33, 1500), (42, 1500), (36, 1514), (27, 1514)], "#e8e8e8")

# ---- buy / sell flags
box(13, 252, 60, 283, "#9a0000")
poly([(29, 283), (44, 283), (36, 292)], "#9a0000")
label(36, 267, "SELL", "#f5f5f5", 11)
box(1071, 653, 1114, 685, "#009600")
poly([(1083, 653), (1102, 653), (1092.4, 644)], "#009600")
label(1092, 669, "BUY", "#f5f5f5", 11)
box(1342, 756, 1388, 788, "#9a0000")
poly([(1356, 788), (1374, 788), (1365, 797)], "#9a0000")
label(1367, 772, "SELL", "#f5f5f5", 11)

# ---- callouts
box(2174, 205, 2335, 230, "#e58a00")
poly([(2174, 209), (2174, 226), (2166, 217)], "#e58a00")
label(2254, 217, "🎯 Fair 206.36 (+214.3%)", "#f5f0e0", 11.5)
box(2227, 750, 2366, 775, "#388e3c")
poly([(2227, 754), (2227, 770), (2219, 762)], "#388e3c")
label(2296, 762, "🔻 Low 97.82 (+49%)", "#f0f5f0", 11.5)
box(2044, 435, 2272, 501, "#e58a00")
poly([(2148, 501), (2166, 501), (2157, 509)], "#e58a00")
label(2158, 468, "⏳ NEXT UNLOCK<br>🔓 Promoter Min • 3 Years<br>228 days · 164 trading  (18-03-2027)<br>"
                 "now in: Markdown ·cyc 2", "#f7f2e6", 11.5)

# ---- E flags
for ex in (509, 1677):
    box(ex - 9, 1268, ex + 9, 1286, "#1a1a1a", "#6a6a6a", 1)
    label(ex, 1277, "E", "#b0b0b0", 10)

# ---- volume labels
label(590, 1316, "HVQ 366.4K (274%)", "#1e6fb8", 10.5)
label(1582, 1320, "HVQ 352.8K (398%)", "#1e6fb8", 10.5)
label(1409, 1369, "K (178%)", "#1e6fb8", 10.5)

# ---- lower-pane stat boxes
for (a, b), txt in zip(stat_edges, stat_text):
    box(a, 1401, b, 1431, "rgba(242,54,69,0.5)")
    label((a + b) / 2, 1416, txt, "#f2f2f2", 13)

# ---- ADR mini table
for (x0, x1, y0, y1, txt) in [(1285, 1339, 1339, 1366, "ADR"), (1339, 1388, 1339, 1366, "4.3 %"),
                              (1285, 1339, 1366, 1393, "Range"), (1339, 1388, 1366, 1393, "3.5 %")]:
    box(x0, y0, x1, y1, "#ffffff", "#7a7a7a", 1)
    label((x0 + x1) / 2, (y0 + y1) / 2, txt, "#3a3a3a", 12.5)

# ---- price-scale pills
box(2618, 269, 2733, 291, "#16305f")
label(2640, 280, "High", "#e6ecf5", 15)
label(2675, 280, "189.45", "#e6ecf5", 15, "left")
box(2664, 506, 2733, 528, "#00bcd4")
label(2675, 517, "136.76", "#0a2a30", 15, "left")
box(2664, 729, 2733, 752, "#c62828")
label(2675, 740, "100.72", "#f5f5f5", 15, "left")
box(2664, 973, 2724, 995, "#ff9800")
label(2675, 984, "69.40", "#1a1a1a", 15, "left")
box(2664, 996, 2724, 1018, "#d9d72b")
label(2675, 1007, "67.38", "#1a1a1a", 15, "left")
box(2664, 1019, 2724, 1041, "#388e2f")
label(2675, 1030, "66.43", "#f0f0f0", 15, "left")
box(2577, 1041, 2664, 1064, "#f23645")
label(2620, 1052, "AVPINFRA", "#ffffff", 14)
box(2664, 1041, 2748, 1082, "#f23645")
label(2675, 1052, "65.65", "#ffffff", 15, "left")
label(2675, 1071, "−63.52%", "#ffffff", 15, "left")
box(2622, 1177, 2724, 1199, "#16305f")
label(2642, 1188, "Low", "#e6ecf5", 15)
label(2675, 1188, "54.50", "#e6ecf5", 15, "left")
box(2664, 1324, 2714, 1346, "#ffffff")
label(2675, 1335, "0.00", "#111111", 15, "left")
box(2664, 1347, 2724, 1369, "#ff2020")
label(2675, 1358, "−0.01", "#ffffff", 15, "left")
box(2664, 1387, 2736, 1408, "#9c4f4f")
label(2675, 1398, "63.92 K", "#f0f0f0", 15, "left")
box(2664, 1409, 2726, 1430, "#787b86")
label(2675, 1419, "29.6 K", "#f0f0f0", 15, "left")
box(2664, 1432, 2700, 1441, "#363a45")

GRID = "#161616"
tick_font = dict(family=FONT, size=15, color="#d1d4dc")
xdom = [fx(10), fx(2664)]
main_dom = [fy(1290), fy(27)]
low_dom = [fy(1441), fy(1291)]
main_range = [np.log10(47.41), np.log10(267.4)]
x_base = dict(domain=xdom, range=[10, 2664], tickmode="array", tickvals=month_pos, ticktext=month_text,
              showgrid=True, gridcolor=GRID, gridwidth=1, zeroline=False, showline=False, ticks="",
              tickfont=tick_font, automargin=False)

fig.update_layout(
    width=W,
    height=H,
    template="none",
    paper_bgcolor="#1f1f1f",
    plot_bgcolor="rgba(0,0,0,0)",
    margin=dict(l=0, r=0, t=0, b=0),
    barmode="overlay",
    showlegend=False,
    hovermode=False,
    shapes=shapes,
    annotations=annotations,
    xaxis=dict(**x_base, anchor="y", showticklabels=False),
    xaxis2=dict(**x_base, anchor="y2", showticklabels=True, ticklabelstandoff=7),
    yaxis=dict(domain=main_dom, range=main_range, anchor="x", side="right", tickmode="array",
               tickvals=np.log10(price_ticks).tolist(), ticktext=[f"{p:.2f}" for p in price_ticks],
               showgrid=True, gridcolor=GRID, zeroline=False, showline=False, ticks="", tickfont=tick_font,
               ticklabelstandoff=11, automargin=False),
    yaxis4=dict(domain=main_dom, range=main_range, overlaying="y", anchor="x", side="right", showgrid=False,
                zeroline=False, showticklabels=False, ticks=""),
    yaxis2=dict(domain=low_dom, range=[-0.425, 0.33], anchor="x2", showgrid=False, zeroline=False,
                showticklabels=False, ticks=""),
    yaxis3=dict(domain=low_dom, range=[-40.7, 471], overlaying="y2", anchor="x2", side="right", tickmode="array",
                tickvals=vol_ticks, ticktext=vol_text, showgrid=True, gridcolor=GRID, zeroline=False, ticks="",
                tickfont=tick_font, ticklabelstandoff=11, automargin=False),
)

fig.write_html("out.html", config={"displayModeBar": False}, post_script="document.body.style.margin='0';")
